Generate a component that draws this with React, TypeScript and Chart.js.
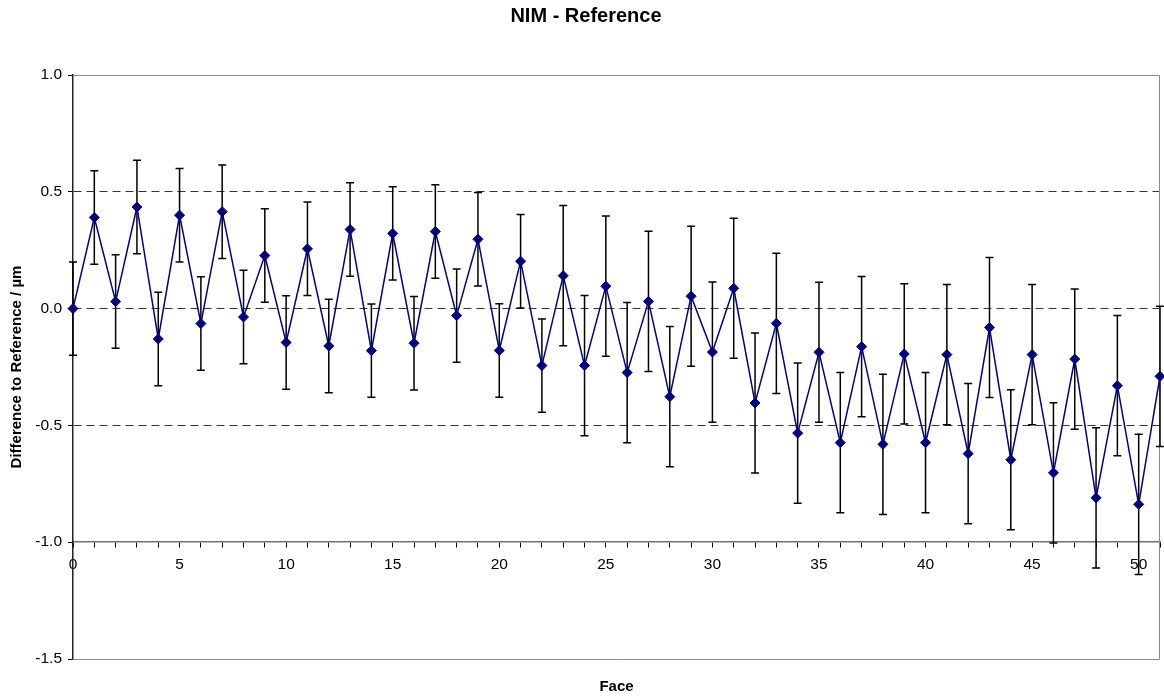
import React, { useEffect, useRef } from "react";
import { Chart, registerables } from "chart.js";

Chart.register(...registerables);

const faces = [0, 1, 2, 3, 4, 5, 6, 7, 8, 9, 10, 11, 12, 13, 14, 15, 16, 17, 18, 19, 20, 21, 22, 23, 24, 25, 26, 27, 28, 29, 30, 31, 32, 33, 34, 35, 36, 37, 38, 39, 40, 41, 42, 43, 44, 45, 46, 47, 48, 49, 50, 51];

const differences = [
  0.0, 0.39, 0.03, 0.435, -0.13, 0.4, -0.064, 0.415, -0.036, 0.227,
  -0.145, 0.256, -0.16, 0.339, -0.18, 0.322, -0.148, 0.33, -0.03, 0.297,
  -0.179, 0.203, -0.244, 0.141, -0.244, 0.096, -0.274, 0.031, -0.377, 0.053,
  -0.186, 0.087, -0.404, -0.063, -0.533, -0.187, -0.574, -0.163, -0.581, -0.194,
  -0.574, -0.197, -0.621, -0.081, -0.647, -0.197, -0.703, -0.216, -0.81, -0.33,
  -0.838, -0.29,
];

const uncertainties = [
  0.2, 0.2, 0.2, 0.2, 0.2, 0.2, 0.2, 0.2, 0.2, 0.2,
  0.2, 0.2, 0.2, 0.2, 0.2, 0.2, 0.2, 0.2, 0.2, 0.2,
  0.2, 0.2, 0.2, 0.3, 0.3, 0.3, 0.3, 0.3, 0.3, 0.3,
  0.3, 0.3, 0.3, 0.3, 0.3, 0.3, 0.3, 0.3, 0.3, 0.3,
  0.3, 0.3, 0.3, 0.3, 0.3, 0.3, 0.3, 0.3, 0.3, 0.3,
  0.3, 0.3,
];

const yTicks = [1.0, 0.5, 0.0, -0.5, -1.0, -1.5];
const dashedLevels = [0.5, 0.0, -0.5];

const TITLE = "NIM - Reference";
const X_TITLE = "Face";
const Y_TITLE = "Difference to Reference / µm";

const FONT = "'Liberation Sans', Arial, Helvetica, sans-serif";

const errorBarsPlugin = {
  id: "errorBars",
  beforeDatasetsDraw(chart: any) {
    const { ctx, chartArea } = chart;
    const xs = chart.scales.x;
    const ys = chart.scales.y;
    ctx.save();
    // plot area frame (top, right, bottom)
    ctx.strokeStyle = "#8c8c8c";
    ctx.lineWidth = 1;
    ctx.beginPath();
    ctx.moveTo(chartArea.left, Math.round(chartArea.top) + 0.5);
    ctx.lineTo(Math.round(chartArea.right) - 0.5, Math.round(chartArea.top) + 0.5);
    ctx.lineTo(Math.round(chartArea.right) - 0.5, Math.round(chartArea.bottom) + 0.5);
    ctx.lineTo(chartArea.left, Math.round(chartArea.bottom) + 0.5);
    ctx.stroke();

    ctx.strokeStyle = "#000000";
    ctx.lineWidth = 1.5;
    const cap = 4;
    faces.forEach((f, i) => {
      const x = xs.getPixelForValue(f);
      const yTop = ys.getPixelForValue(differences[i] + uncertainties[i]);
      const yBot = ys.getPixelForValue(differences[i] - uncertainties[i]);
      ctx.beginPath();
      ctx.moveTo(x, yTop);
      ctx.lineTo(x, yBot);
      ctx.moveTo(x - cap, yTop);
      ctx.lineTo(x + cap, yTop);
      ctx.moveTo(x - cap, yBot);
      ctx.lineTo(x + cap, yBot);
      ctx.stroke();
    });
    ctx.restore();
  },
};

const zeroSidePadding = (scale: any) => {
  scale.paddingLeft = 0;
  scale.paddingRight = 0;
};

export default function App() {
  const canvasRef = useRef<HTMLCanvasElement | null>(null);

  useEffect(() => {
    if (!canvasRef.current) return;
    const chart = new Chart(canvasRef.current, {
      type: "line",
      data: {
        datasets: [
          {
            label: "NIM - Reference",
            data: faces.map((f, i) => ({ x: f, y: differences[i] })),
            borderColor: "#000080",
            backgroundColor: "#000080",
            borderWidth: 1.5,
            pointStyle: "rectRot",
            pointRadius: 5,
            pointHoverRadius: 5,
            pointBackgroundColor: "#000080",
            pointBorderColor: "#000080",
            pointBorderWidth: 1,
            tension: 0,
            clip: false as any,
            xAxisID: "x",
            yAxisID: "y",
          },
        ],
      },
      options: {
        animation: false,
        responsive: true,
        maintainAspectRatio: false,
        layout: { autoPadding: false, padding: { left: 12, right: 4, top: 0, bottom: 0 } },
        plugins: {
          legend: { display: false },
          tooltip: { enabled: false },
          title: {
            display: true,
            text: TITLE,
            color: "#000",
            font: { family: FONT, size: 20, weight: "bold" },
            padding: { top: 4, bottom: 47 },
          },
        },
        scales: {
          x: {
            type: "linear",
            axis: "x",
            position: { y: -1 } as any,
            min: 0,
            max: 51,
            afterFit: zeroSidePadding,
            ticks: {
              stepSize: 1,
              autoSkip: false,
              maxRotation: 0,
              color: "#000",
              padding: 8,
              font: { family: FONT, size: 15.5 },
              callback: (v: any) => (Number(v) % 5 === 0 ? String(v) : ""),
            },
            grid: {
              display: true,
              drawOnChartArea: false,
              drawTicks: true,
              tickLength: 5,
              tickColor: "#000",
              tickWidth: 1,
            },
            border: { display: true, color: "#707070", width: 1.5 },
          },
          xb: {
            type: "linear",
            axis: "x",
            position: "bottom",
            min: 0,
            max: 51,
            afterFit: zeroSidePadding,
            ticks: { display: false },
            grid: { display: false, drawTicks: false },
            border: { display: false },
            title: {
              display: true,
              text: X_TITLE,
              color: "#000",
              font: { family: FONT, size: 15, weight: "bold" },
              padding: { top: 19, bottom: 0 },
            },
          },
          y: {
            type: "linear",
            position: "left",
            min: -1.5,
            max: 1.0,
            afterBuildTicks: (scale: any) => {
              scale.ticks = yTicks.map((v) => ({ value: v }));
            },
            afterFit: (scale: any) => {
              scale.width = 61;
            },
            ticks: {
              color: "#000",
              padding: 6,
              font: { family: FONT, size: 15.5 },
              callback: (v: any) => Number(v).toFixed(1),
            },
            grid: {
              display: true,
              drawOnChartArea: true,
              drawTicks: true,
              tickLength: 5,
              tickColor: "#000",
              tickWidth: 1,
              tickBorderDash: [],
              lineWidth: 1,
              color: (ctx: any) => {
                const v = ctx.tick ? ctx.tick.value : null;
                if (v === null) return "rgba(0,0,0,0)";
                return dashedLevels.some((d) => Math.abs(d - v) < 1e-6) ? "#333333" : "rgba(0,0,0,0)";
              },
            },
            border: {
              display: true,
              color: "#222",
              width: 1.5,
              dash: (ctx: any) => (ctx.type === "tick" ? [8, 5] : []),
            },
            title: {
              display: true,
              text: Y_TITLE,
              color: "#000",
              font: { family: FONT, size: 15, weight: "bold" },
              padding: { top: -4, bottom: 0 },
            },
          },
        },
      },
      plugins: [errorBarsPlugin],
    } as any);
    return () => chart.destroy();
  }, []);

  return (
    <div style={{ position: "absolute", left: 0, top: 0, width: 1164, height: 696, background: "#fff" }}>
      <canvas ref={canvasRef} />
    </div>
  );
}
